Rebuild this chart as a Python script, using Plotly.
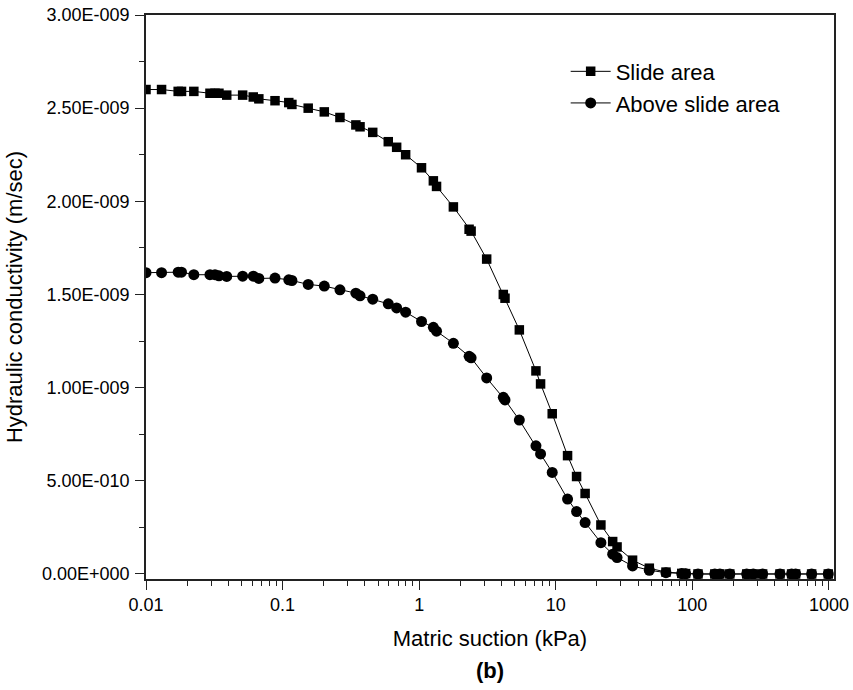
import plotly.graph_objects as go

suction_kpa = [0.01, 0.013, 0.0172, 0.0182, 0.0224, 0.0294, 0.032, 0.0342, 0.039, 0.051,
               0.061, 0.067, 0.088, 0.111, 0.117, 0.154, 0.202, 0.263, 0.344, 0.369,
               0.457, 0.594, 0.684, 0.796, 1.04, 1.27, 1.34, 1.78, 2.32, 2.40,
               3.12, 4.13, 4.25, 5.41, 7.16, 7.74, 9.42, 12.2, 14.2, 16.4,
               21.4, 26.1, 28.1, 36.5, 48.4, 64.1, 83.6, 89.3, 110, 146,
               159, 188, 250, 279, 327, 438, 533, 570, 747, 989]

slide_area_e9 = [2.60, 2.60, 2.59, 2.59, 2.59, 2.58, 2.58, 2.58, 2.57, 2.57,
                 2.56, 2.55, 2.54, 2.53, 2.52, 2.50, 2.48, 2.45, 2.41, 2.40,
                 2.37, 2.32, 2.29, 2.25, 2.18, 2.11, 2.08, 1.97, 1.85, 1.84,
                 1.69, 1.50, 1.48, 1.31, 1.09, 1.02, 0.86, 0.635, 0.523, 0.432,
                 0.263, 0.174, 0.145, 0.074, 0.031, 0.010, 0.003, 0.002, 0.0, 0.0,
                 0.0, 0.0, 0.0, 0.0, 0.0, 0.0, 0.0, 0.0, 0.0, 0.0]

above_slide_e9 = [1.617, 1.617, 1.62, 1.62, 1.606, 1.606, 1.606, 1.600, 1.597, 1.598,
                  1.598, 1.586, 1.588, 1.579, 1.575, 1.554, 1.545, 1.525, 1.507, 1.493,
                  1.475, 1.45, 1.428, 1.405, 1.355, 1.324, 1.303, 1.238, 1.168, 1.160,
                  1.052, 0.948, 0.934, 0.826, 0.688, 0.644, 0.545, 0.402, 0.335, 0.276,
                  0.168, 0.106, 0.088, 0.043, 0.020, 0.007, 0.002, 0.001, 0.0, 0.0,
                  0.0, 0.0, 0.0, 0.0, 0.0, 0.0, 0.0, 0.0, 0.0, 0.0]

x_tickvals = [0.01, 0.1, 1, 10, 100, 1000]
x_ticktext = ["0.01", "0.1", "1", "10", "100", "1000"]
y_tickvals = [0, 0.5e-9, 1.0e-9, 1.5e-9, 2.0e-9, 2.5e-9, 3.0e-9]
y_ticktext = ["0.00E+000", "5.00E-010", "1.00E-009", "1.50E-009",
              "2.00E-009", "2.50E-009", "3.00E-009"]

FONT = "Liberation Sans"

fig = go.Figure()
fig.add_trace(go.Scatter(
    x=suction_kpa, y=[v * 1e-9 for v in slide_area_e9], name="Slide area",
    mode="lines+markers", line=dict(color="black", width=1),
    marker=dict(symbol="square", size=9.5, color="black")))
fig.add_trace(go.Scatter(
    x=suction_kpa, y=[v * 1e-9 for v in above_slide_e9], name="Above slide area",
    mode="lines+markers", line=dict(color="black", width=1),
    marker=dict(symbol="circle", size=11, color="black")))

fig.update_layout(
    template="none",
    width=853, height=690,
    margin=dict(l=146, r=19, t=15, b=111, autoexpand=False),
    paper_bgcolor="white", plot_bgcolor="white",
    font=dict(family=FONT, color="black", size=18),
    showlegend=True,
    legend=dict(x=0.61, y=0.937, xanchor="left", yanchor="top",
                font=dict(size=22, family=FONT), bgcolor="rgba(0,0,0,0)",
                tracegroupgap=0, itemwidth=40),
    annotations=[dict(text="<b>(b)</b>", x=0.5, y=-0.1625, xref="paper", yref="paper",
                      xanchor="center", yanchor="middle", showarrow=False,
                      font=dict(size=22, family=FONT, color="black"))],
)

fig.update_xaxes(
    type="log", range=[-2, 3.037], automargin=False,
    tickmode="array", tickvals=x_tickvals, ticktext=x_ticktext,
    ticks="outside", ticklen=9, tickwidth=1.3, tickcolor="#222",
    tickfont=dict(size=18, family=FONT, color="black"),
    ticklabeloverflow="allow",
    minor=dict(ticks="outside", ticklen=5, tickwidth=1, tickcolor="#222", dtick="D1", showgrid=False),
    showline=True, linecolor="#222", linewidth=1.5, mirror=True,
    showgrid=False, zeroline=False,
    title=dict(text="Matric suction (kPa)", font=dict(size=22), standoff=16),
)
fig.update_yaxes(
    range=[-0.027e-9, 3.0e-9], automargin=False,
    tickmode="array", tickvals=y_tickvals, ticktext=y_ticktext,
    ticks="outside", ticklen=9, tickwidth=1.3, tickcolor="#222",
    tickfont=dict(size=18, family=FONT, color="black"),
    ticklabeloverflow="allow", ticklabelstandoff=2,
    minor=dict(ticks="outside", ticklen=5, tickwidth=1, tickcolor="#222", dtick=0.25e-9, showgrid=False),
    showline=True, linecolor="#222", linewidth=1.5, mirror=True,
    showgrid=False, zeroline=False,
    title=dict(text="Hydraulic conductivity (m/sec)", font=dict(size=22), standoff=13),
)

fig.write_html("out.html", config={"displayModeBar": False},
               post_script="document.body.style.margin='0';document.body.style.overflow='hidden';")
